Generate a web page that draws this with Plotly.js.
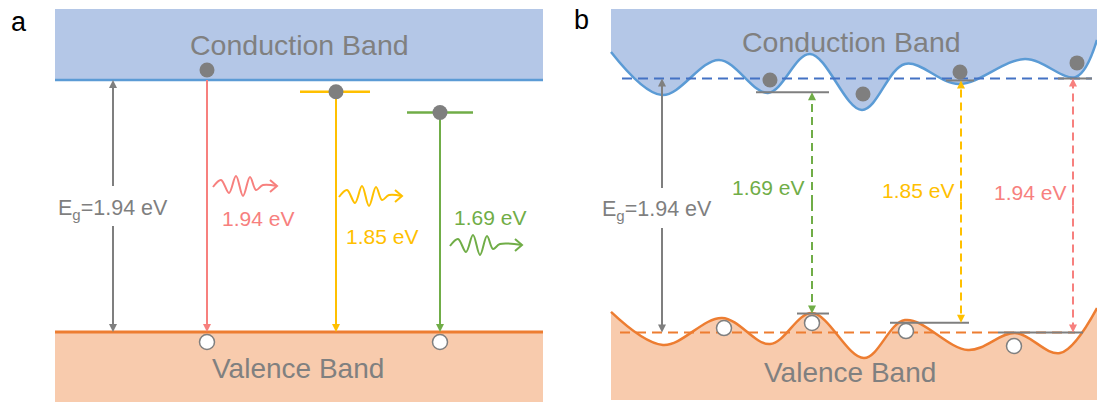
<!DOCTYPE html>
<html>
<head>
<meta charset="utf-8">
<script src="https://cdn.plot.ly/plotly-3.0.1.min.js"></script>
<style>
  html, body { margin: 0; padding: 0; background: #fff; }
  #chart { width: 1097px; height: 403px; }
</style>
</head>
<body>
<div id="chart"></div>
<script>
// ---------------- energies (eV) ----------------
const bandGap = 1.94;
const gapLabel = 'E<sub>g</sub>=1.94 eV';

// (a) band-to-band and sub-gap emission lines: red, yellow, green
const emissionEnergies = [1.94, 1.85, 1.69];
const emissionLabels = ['1.94 eV', '1.85 eV', '1.69 eV'];

// (b) localized transitions between band-edge fluctuations: green, yellow, red
const localGaps = [1.69, 1.85, 1.94];
const localLabels = ['1.69 eV', '1.85 eV', '1.94 eV'];
const localUpper = [1.835, 1.925, 1.94];   // local conduction-band minima feeding each transition

// (b) fluctuating band edges: position along the film and energy (eV)
const cbPos    = [611, 662, 719, 768, 810, 862, 905, 959, 1025, 1076, 1097];
const cbEnergy = [2.143, 1.814, 2.082, 1.830, 2.128, 1.700, 2.051, 1.898, 2.089, 1.952, 2.235];
const vbPos    = [611, 663, 722, 770, 812, 864, 905, 968, 1015, 1060, 1097];
const vbEnergy = [0.157, -0.095, 0.111, -0.088, 0.149, -0.195, 0.095, -0.134, -0.004, -0.157, 0.187];

// (b) trapped carriers
const electronPos    = [770, 863, 960, 1077];
const electronEnergy = [1.929, 1.822, 1.990, 2.059];
const holePos        = [724, 812, 906, 1014];
const holeEnergy     = [0.034, 0.073, 0.011, -0.103];

// ---------------- geometry & style ----------------
const W = 1097, H = 403;
const FONT = 'Arial, "Liberation Sans", sans-serif';
const C = {
  cbFill: '#B4C7E7', cbLine: '#5B9BD5', cbDash: '#4472C4',
  vbFill: '#F8CBAD', vbLine: '#ED7D31',
  gray: '#7F7F7F', red: '#F7807E', yellow: '#FFC000', green: '#70AD47',
  text: '#808080'
};
const colorsA = [C.red, C.yellow, C.green];
const colorsB = [C.green, C.yellow, C.red];

// pixel rows of the band edges in each panel
const rowsA = { vb: 332, cb: 80 };
const rowsB = { vb: 332.5, cb: 78.5 };
const sA = (rowsA.vb - rowsA.cb) / bandGap;   // px per eV
const sB = (rowsB.vb - rowsB.cb) / bandGap;
const eA = py => (rowsA.vb - py) / sA;
const eB = py => (rowsB.vb - py) / sB;

const traces = [];
const annotations = [];
const shapes = [];

function label(text, px, py, color, size) {
  annotations.push({
    text, x: px / W, y: 1 - py / H, xref: 'paper', yref: 'paper',
    xanchor: 'center', yanchor: 'middle', showarrow: false,
    font: { family: FONT, size, color }
  });
}
function seg(xs, ys, yaxis, color, width, dash, shape) {
  traces.push({
    x: xs, y: ys, yaxis, mode: 'lines', hoverinfo: 'skip',
    line: { color, width, dash: dash || 'solid', shape: shape || 'linear' }
  });
}
// vertical line from y0 to y1 (eV) ending in a filled arrowhead whose tip is at y1
const HEAD_LEN = 8, HEAD_HALF = 4;
function arrow(x, y0, y1, yaxis, color, dash) {
  const s = yaxis === 'y' ? sA : sB;
  const dir = Math.sign(y1 - y0);
  const base = y1 - dir * HEAD_LEN / s;
  seg([x, x], [y0, base + dir * 1 / s], yaxis, color, 2, dash);
  traces.push({
    x: [x - HEAD_HALF, x + HEAD_HALF, x, x - HEAD_HALF],
    y: [base, base, y1, base], yaxis, mode: 'lines', hoverinfo: 'skip',
    fill: 'toself', fillcolor: color, line: { width: 0, color }
  });
}
function carriers(xs, ys, yaxis, filled) {
  traces.push({
    x: xs, y: ys, yaxis, mode: 'markers', hoverinfo: 'skip', cliponaxis: false,
    marker: {
      symbol: 'circle', size: 15,
      color: filled ? C.gray : '#FFFFFF',
      line: { color: C.gray, width: filled ? 0 : 1.5 }
    }
  });
}
// photon glyph: wiggle followed by an open arrowhead
const wiggle = [[0, 1], [8, -6], [16, 7], [23, -10], [30, 10], [37, -9], [43, 4], [50, -1]];
function photon(x0, py, len, color) {
  const xs = wiggle.map(p => x0 + p[0]).concat([x0 + len]);
  const ys = wiggle.map(p => eA(py + p[1])).concat([eA(py)]);
  seg(xs, ys, 'y', color, 2, 'solid', 'spline');
  const tx = x0 + len;
  seg([tx - 7, tx, tx - 7], [eA(py - 6), eA(py), eA(py + 6)], 'y', color, 2);
}

// ================= panel (a): flat bands =================
shapes.push(
  { type: 'rect', xref: 'x', yref: 'y', x0: 55, x1: 543, y0: bandGap, y1: eA(9),
    fillcolor: C.cbFill, line: { width: 0 }, layer: 'below' },
  { type: 'rect', xref: 'x', yref: 'y', x0: 55, x1: 543, y0: 0, y1: eA(402),
    fillcolor: C.vbFill, line: { width: 0 }, layer: 'below' }
);
seg([55, 543], [bandGap, bandGap], 'y', C.cbLine, 2.5);
seg([55, 543], [0, 0], 'y', C.vbLine, 3);

// band gap arrow, split around its label
const gapXA = 113;
arrow(gapXA, eA(186), bandGap, 'y', C.gray);
arrow(gapXA, eA(226), 0, 'y', C.gray);
label(gapLabel, gapXA, 209, C.gray, 21.5);

// emission lines
const lineXA = [207, 336, 440];
const levelSpanA = [null, [300, 370], [407, 473]];
const electronA = [];
emissionEnergies.forEach((E, i) => {
  const top = 0 + E;
  if (levelSpanA[i]) seg(levelSpanA[i], [top, top], 'y', colorsA[i], 2.5);
  arrow(lineXA[i], top, 0, 'y', colorsA[i]);
  electronA.push(levelSpanA[i] ? top : top + 10 / sA);
});
photon(213, 186, 64, colorsA[0]);
photon(339, 196, 63, colorsA[1]);
photon(450, 245, 72, colorsA[2]);
label(emissionLabels[0], 258, 218, colorsA[0], 21);
label(emissionLabels[1], 382, 236, colorsA[1], 21);
label(emissionLabels[2], 490, 217, colorsA[2], 21);

carriers(lineXA, electronA, 'y', true);
carriers([lineXA[0], lineXA[2]], [eA(342), eA(342)], 'y', false);

label('Conduction Band', 299, 45, C.text, 28.5);
label('Valence Band', 298, 368, C.text, 28);

// ================= panel (b): fluctuating bands =================
seg([611, 1097], [eB(9), eB(9)], 'y2', 'rgba(0,0,0,0)', 0);
traces.push({
  x: cbPos, y: cbEnergy, yaxis: 'y2', mode: 'lines', hoverinfo: 'skip',
  fill: 'tonexty', fillcolor: C.cbFill,
  line: { color: C.cbLine, width: 2.5, shape: 'spline', smoothing: 1 }
});
seg([611, 1097], [eB(400), eB(400)], 'y2', 'rgba(0,0,0,0)', 0);
traces.push({
  x: vbPos, y: vbEnergy, yaxis: 'y2', mode: 'lines', hoverinfo: 'skip',
  fill: 'tonexty', fillcolor: C.vbFill,
  line: { color: C.vbLine, width: 2.5, shape: 'spline', smoothing: 1 }
});

// average band edges
seg([622, 1092], [bandGap, bandGap], 'y2', C.cbDash, 2, '10px,6px');
seg([620, 1075], [0, 0], 'y2', C.vbLine, 2, '10px,6px');

// band gap arrow
const gapXB = 662;
arrow(gapXB, eB(188), bandGap, 'y2', C.gray);
arrow(gapXB, eB(228), 0, 'y2', C.gray);
label(gapLabel, 657, 210, C.gray, 21.5);

// localized transitions
const lineXB = [812, 961, 1073];
const upperSpanB = [[756, 829], [946, 974], [1058, 1092]];
const lowerSpanB = [[797, 829], [890, 969], [998, 1083]];
const labelPosB = [[768, 188], [918, 190], [1030, 192]];
localGaps.forEach((E, i) => {
  const up = localUpper[i], lo = localUpper[i] - E, mid = (up + lo) / 2;
  seg(upperSpanB[i], [up, up], 'y2', C.gray, 2);
  seg(lowerSpanB[i], [lo, lo], 'y2', C.gray, 2);
  arrow(lineXB[i], mid, up, 'y2', colorsB[i], '8px,5px');
  arrow(lineXB[i], mid, lo, 'y2', colorsB[i], '8px,5px');
  label(localLabels[i], labelPosB[i][0], labelPosB[i][1], colorsB[i], 21);
});

carriers(electronPos, electronEnergy, 'y2', true);
carriers(holePos, holeEnergy, 'y2', false);

label('Conduction Band', 851, 42, C.text, 28.5);
label('Valence Band', 850, 372, C.text, 28);

// panel letters
label('a', 19, 22, '#000000', 27);
label('b', 581, 20, '#000000', 27);

traces.forEach(t => { t.showlegend = false; });

const layout = {
  width: W, height: H,
  margin: { l: 0, r: 0, t: 0, b: 0 },
  paper_bgcolor: '#FFFFFF', plot_bgcolor: 'rgba(0,0,0,0)',
  showlegend: false, hovermode: false,
  xaxis: { range: [0, W], visible: false, fixedrange: true },
  yaxis: { range: [(rowsA.vb - H) / sA, rowsA.vb / sA], visible: false, fixedrange: true },
  yaxis2: { range: [(rowsB.vb - H) / sB, rowsB.vb / sB], visible: false, fixedrange: true,
            overlaying: 'y' },
  shapes, annotations
};

Plotly.newPlot('chart', traces, layout, { staticPlot: true, displayModeBar: false });
</script>
</body>
</html>
